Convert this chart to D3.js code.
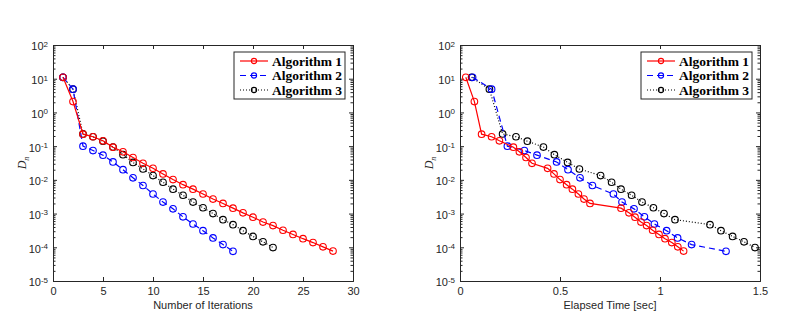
<!DOCTYPE html>
<html>
<head>
<meta charset="utf-8">
<script src="https://cdn.jsdelivr.net/npm/d3@7"></script>
<style>
body { margin: 0; background: #fff; }
svg { display: block; }
</style>
</head>
<body>
<svg id="svg" width="796" height="313"></svg>
<script>
// values
var seriesNames = ["Algorithm 1", "Algorithm 2", "Algorithm 3"];

var alg1Iter = [1,2,3,4,5,6,7,8,9,10,11,12,13,14,15,16,17,18,19,20,21,22,23,24,25,26,27,28];
var alg1Dn = [11, 2.1, 0.227, 0.19, 0.144, 0.093, 0.068, 0.046, 0.031, 0.022, 0.015, 0.0102, 0.0072, 0.0053,
              0.0038, 0.0027, 0.002, 0.00145, 0.00105, 0.00078, 0.00056, 0.00044, 0.00032, 0.00024, 0.00018,
              0.000138, 0.000103, 0.000077];
var alg1Time = [0.029, 0.072, 0.108, 0.158, 0.197, 0.267, 0.297, 0.33, 0.36, 0.438, 0.47, 0.5, 0.533, 0.562,
                0.592, 0.62, 0.65, 0.805, 0.845, 0.875, 0.905, 0.933, 0.963, 0.995, 1.025, 1.059, 1.089, 1.118];

var alg2Iter = [1,2,3,4,5,6,7,8,9,10,11,12,13,14,15,16,17,18];
var alg2Dn = [11, 4.9, 0.1, 0.074, 0.054, 0.034, 0.020, 0.0115, 0.0068, 0.0038, 0.0022, 0.00138, 0.0008,
              0.00049, 0.00031, 0.00019, 0.00012, 0.000076];
var alg2Time = [0.063, 0.158, 0.237, 0.322, 0.385, 0.483, 0.54, 0.60, 0.662, 0.767, 0.81, 0.87, 0.922, 0.972,
                1.033, 1.088, 1.158, 1.33];

var alg3Iter = [1,2,3,4,5,6,7,8,9,10,11,12,13,14,15,16,17,18,19,20,21,22];
var alg3Dn = [11, 4.9, 0.23, 0.19, 0.14, 0.094, 0.056, 0.033, 0.021, 0.0134, 0.0085, 0.0053, 0.0035, 0.0022,
              0.00149, 0.001, 0.00066, 0.00047, 0.00031, 0.00021, 0.000145, 0.000098];
var alg3Time = [0.058, 0.147, 0.213, 0.28, 0.337, 0.417, 0.472, 0.538, 0.597, 0.703, 0.758, 0.805, 0.858, 0.91,
                0.967, 1.02, 1.075, 1.25, 1.305, 1.363, 1.42, 1.475];

var iterTicks = [0, 5, 10, 15, 20, 25, 30];
var timeTicks = [0, 0.5, 1, 1.5];
var yTicks = [1e-5, 1e-4, 1e-3, 1e-2, 1e-1, 1e0, 1e1, 1e2];

var colors = ["#ff0000", "#0000ff", "#000000"];
var dashes = [null, "6,4", "1,2"];

var svg = d3.select("svg");
var axisColor = "#262626";
var plotTop = 45, plotBottom = 281;

var y = d3.scaleLog().domain([1e-5, 1e2]).range([plotBottom, plotTop]);

var minorY = [];
yTicks.slice(0, -1).forEach(function(d) {
    for (var k = 2; k <= 9; k++) minorY.push(d * k);
});

function supLabel(sel) {
    sel.each(function(d) {
        var t = d3.select(this);
        var e = Math.round(Math.log10(d));
        t.text("");
        t.append("tspan").text("10");
        t.append("tspan").attr("dy", "-0.45em").attr("font-size", "8px").text(e);
    });
}

function drawPanel(left, xDomain, xTicks, xFmt, xLabel, xs) {
    var right = left + 300;
    var x = d3.scaleLinear().domain(xDomain).range([left, right]);
    var g = svg.append("g");

    // minor y ticks, left and right
    g.append("g").attr("transform", "translate(" + left + ",0)")
        .call(d3.axisLeft(y).tickValues(minorY).tickSize(-2.5).tickFormat(""))
        .call(function(a) { a.select(".domain").remove(); });
    g.append("g").attr("transform", "translate(" + right + ",0)")
        .call(d3.axisRight(y).tickValues(minorY).tickSize(-2.5).tickFormat(""))
        .call(function(a) { a.select(".domain").remove(); });

    // major y ticks
    var yl = g.append("g").attr("transform", "translate(" + left + ",0)")
        .call(d3.axisLeft(y).tickValues(yTicks).tickSize(-4).tickPadding(5));
    yl.selectAll(".tick text").call(supLabel).attr("dy", "0.45em");
    g.append("g").attr("transform", "translate(" + right + ",0)")
        .call(d3.axisRight(y).tickValues(yTicks).tickSize(-4).tickFormat(""));

    // x ticks bottom and top
    g.append("g").attr("transform", "translate(0," + plotBottom + ")")
        .call(d3.axisBottom(x).tickValues(xTicks).tickSize(-4).tickPadding(6).tickFormat(xFmt));
    g.append("g").attr("transform", "translate(0," + plotTop + ")")
        .call(d3.axisTop(x).tickValues(xTicks).tickSize(-4).tickFormat(""));

    g.selectAll(".tick line").attr("stroke", axisColor);
    g.selectAll(".domain").attr("stroke", axisColor);
    g.selectAll(".tick text").attr("fill", axisColor)
        .attr("font-family", "Liberation Sans, Arial, sans-serif").attr("font-size", "11px");

    g.append("text")
        .attr("x", (left + right) / 2).attr("y", 309)
        .attr("text-anchor", "middle")
        .attr("font-family", "Liberation Sans, Arial, sans-serif")
        .attr("font-size", "11px").attr("fill", axisColor)
        .text(xLabel);

    var yLab = g.append("text")
        .attr("transform", "translate(" + (left - 27) + "," + ((plotTop + plotBottom) / 2) + ") rotate(-90)")
        .attr("text-anchor", "middle")
        .attr("font-family", "Liberation Serif, serif")
        .attr("font-style", "italic")
        .attr("font-size", "12px").attr("fill", axisColor);
    yLab.append("tspan").text("D");
    yLab.append("tspan").attr("dy", "3").attr("font-size", "8px").text("n");

    var dns = [alg1Dn, alg2Dn, alg3Dn];
    var line = d3.line().x(function(d) { return x(d[0]); }).y(function(d) { return y(d[1]); });

    // draw series 3 first so red sits on top
    [2, 1, 0].forEach(function(s) {
        var pts = xs[s].map(function(v, i) { return [v, dns[s][i]]; });
        g.append("path").datum(pts)
            .attr("d", line)
            .attr("fill", "none")
            .attr("stroke", colors[s])
            .attr("stroke-width", 1.2)
            .attr("stroke-dasharray", dashes[s]);
        g.selectAll(null).data(pts).enter().append("circle")
            .attr("cx", function(d) { return x(d[0]); })
            .attr("cy", function(d) { return y(d[1]); })
            .attr("r", 3.3)
            .attr("fill", "none")
            .attr("stroke", colors[s])
            .attr("stroke-width", 1.1);
    });

    // legend
    var lw = 111, lh = 47;
    var lx = right - 8 - lw, ly = plotTop + 7;
    var lg = g.append("g").attr("transform", "translate(" + lx + "," + ly + ")");
    lg.append("rect").attr("width", lw).attr("height", lh)
        .attr("fill", "#fff").attr("stroke", axisColor).attr("stroke-width", 1);
    seriesNames.forEach(function(name, i) {
        var ry = 9 + i * 14.5;
        lg.append("line").attr("x1", 6).attr("x2", 34).attr("y1", ry).attr("y2", ry)
            .attr("stroke", colors[i]).attr("stroke-width", 1.2)
            .attr("stroke-dasharray", dashes[i]);
        lg.append("circle").attr("cx", 20).attr("cy", ry).attr("r", 2.6)
            .attr("fill", "none").attr("stroke", colors[i]).attr("stroke-width", 1.1);
        lg.append("text").attr("x", 38).attr("y", ry + 4.5)
            .attr("font-family", "Liberation Serif, serif")
            .attr("font-weight", "bold").attr("font-size", "13.5px")
            .attr("fill", "#000")
            .text(name);
    });
}

drawPanel(53, [0, 30], iterTicks, d3.format("d"), "Number of Iterations",
    [alg1Iter, alg2Iter, alg3Iter]);
drawPanel(460, [0, 1.5], timeTicks, function(d) { return String(d); }, "Elapsed Time [sec]",
    [alg1Time, alg2Time, alg3Time]);
</script>
</body>
</html>
